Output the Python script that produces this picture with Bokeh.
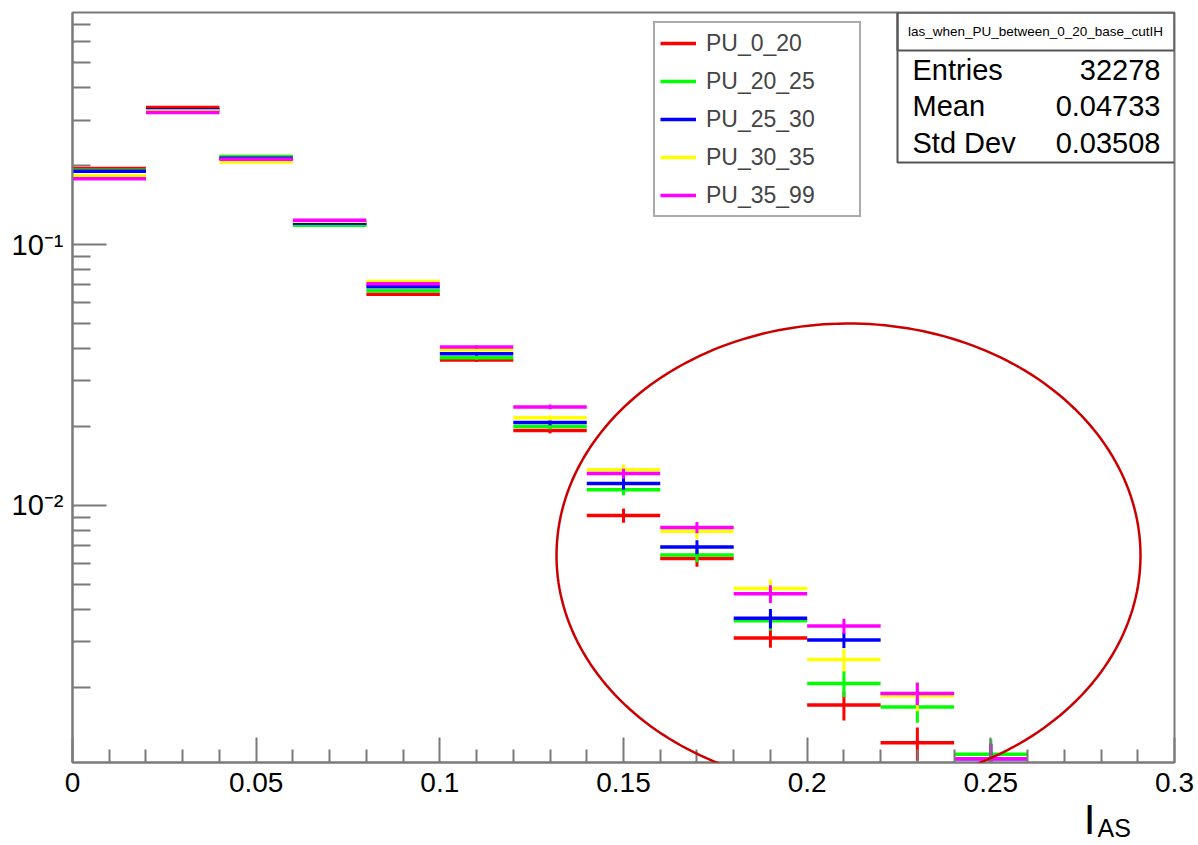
import math
import numpy as np
from bokeh.plotting import figure
from bokeh.models import (FixedTicker, CustomJSTickFormatter, Legend, LegendItem, LinearAxis,
                          ColumnDataSource, BoxAnnotation, Label, PolyAnnotation)
from bokeh.embed import file_html
from bokeh.resources import INLINE

NAN = float("nan")

# ---------------- data ----------------
bin_lo = [0.00, 0.02, 0.04, 0.06, 0.08, 0.10, 0.12, 0.14, 0.16, 0.18, 0.20, 0.22, 0.24]
bin_hi = [0.02, 0.04, 0.06, 0.08, 0.10, 0.12, 0.14, 0.16, 0.18, 0.20, 0.22, 0.24, 0.26]

series_names = ["PU_0_20", "PU_20_25", "PU_25_30", "PU_30_35", "PU_35_99"]
series_colors = ["#ff0000", "#00ff00", "#0000ff", "#ffff00", "#ff00ff"]

pu_0_20 = [0.1955, 0.3354, 0.2148, 0.1198, 0.06445, 0.03608, 0.01939, 0.00916, 0.00626, 0.003108, 0.001719, 0.001231, NAN]
pu_20_25 = [0.1925, 0.3275, 0.2173, 0.1185, 0.06658, 0.03681, 0.02008, 0.01148, 0.00646, 0.003617, 0.002079, 0.00169, 0.001114]
pu_25_30 = [0.1911, 0.3284, 0.2140, 0.1206, 0.06897, 0.03813, 0.02079, 0.01213, 0.00693, 0.003694, 0.003053, 0.00190, 0.00107]
pu_30_35 = [0.1834, 0.3247, 0.2074, 0.1229, 0.07225, 0.03950, 0.02167, 0.01372, 0.00796, 0.004808, 0.002568, 0.001866, NAN]
pu_35_99 = [0.1786, 0.3209, 0.2124, 0.1238, 0.07079, 0.04045, 0.02387, 0.01325, 0.00824, 0.004585, 0.003452, 0.001904, 0.00107]

err_0_20 = [0.0010, 0.0013, 0.0010, 0.0008, 0.0008, 0.0006, 0.0005, 0.00057, 0.00044, 0.00026, 0.00022, 0.00018, NAN]
err_20_25 = [0.0010, 0.0013, 0.0010, 0.0008, 0.0008, 0.0006, 0.0005, 0.00055, 0.00040, 0.00030, 0.00024, 0.00022, 0.00016]
err_25_30 = [0.0010, 0.0013, 0.0010, 0.0008, 0.0008, 0.0006, 0.0005, 0.00064, 0.00043, 0.00032, 0.00021, 0.00020, 0.00015]
err_30_35 = [0.0010, 0.0013, 0.0010, 0.0008, 0.0008, 0.0006, 0.0005, 0.00064, 0.00054, 0.00041, 0.00026, 0.00024, NAN]
err_35_99 = [0.0010, 0.0013, 0.0010, 0.0008, 0.0008, 0.0006, 0.0005, 0.00058, 0.00041, 0.00036, 0.00023, 0.00019, 0.00015]

series_values = [pu_0_20, pu_20_25, pu_25_30, pu_30_35, pu_35_99]
series_errors = [err_0_20, err_20_25, err_25_30, err_30_35, err_35_99]

x_major_ticks = [0.0, 0.05, 0.10, 0.15, 0.20, 0.25, 0.30]
x_minor_ticks = [0.01, 0.02, 0.03, 0.04, 0.06, 0.07, 0.08, 0.09, 0.11, 0.12, 0.13, 0.14,
                 0.16, 0.17, 0.18, 0.19, 0.21, 0.22, 0.23, 0.24, 0.26, 0.27, 0.28, 0.29]
y_major_ticks = [0.01, 0.1]
y_minor_ticks = [0.002, 0.003, 0.004, 0.005, 0.006, 0.007, 0.008, 0.009,
                 0.02, 0.03, 0.04, 0.05, 0.06, 0.07, 0.08, 0.09,
                 0.2, 0.3, 0.4, 0.5, 0.6, 0.7]

x_title_main = "I"
x_title_sub = "AS"

stats_title = "las_when_PU_between_0_20_base_cutIH"
stats_rows = [("Entries", "32278"), ("Mean", "0.04733"), ("Std Dev", "0.03508")]

# ---------------- figure ----------------
FONT = "Liberation Sans"
GRAY = "#7a7a7a"

p = figure(width=1198, height=845, x_range=(0.0, 0.3), y_range=(0.001035, 0.775),
           y_axis_type="log", output_backend="svg", toolbar_location=None,
           min_border_left=72, min_border_right=24, min_border_top=12, min_border_bottom=80)
p.background_fill_color = "white"
p.border_fill_color = "white"
p.outline_line_color = GRAY
p.outline_line_width = 2
p.xgrid.visible = False
p.ygrid.visible = False

for ax in (p.xaxis[0], p.yaxis[0]):
    ax.axis_line_color = GRAY
    ax.axis_line_width = 2
    ax.major_tick_line_color = GRAY
    ax.minor_tick_line_color = GRAY
    ax.major_tick_line_width = 2
    ax.minor_tick_line_width = 2
    ax.major_tick_out = 0
    ax.minor_tick_out = 0
    ax.major_label_text_font = FONT
    ax.major_label_text_color = "black"

xa = p.xaxis[0]
xa.ticker = FixedTicker(ticks=x_major_ticks, minor_ticks=x_minor_ticks)
xa.formatter = CustomJSTickFormatter(code="return String(Number(tick.toFixed(3)));")
xa.major_tick_in = 25
xa.minor_tick_in = 13
xa.major_label_text_font_size = "28px"
xa.major_label_standoff = 10

ya = p.yaxis[0]
ya.ticker = FixedTicker(ticks=y_major_ticks, minor_ticks=y_minor_ticks)
ya.formatter = CustomJSTickFormatter(code="""
const e = Math.round(Math.log10(tick));
const sup = {'-': '\\u207b', '0': '\\u2070', '1': '\\u00b9', '2': '\\u00b2', '3': '\\u00b3',
             '4': '\\u2074', '5': '\\u2075', '6': '\\u2076', '7': '\\u2077', '8': '\\u2078', '9': '\\u2079'};
return '10' + String(e).split('').map(c => sup[c]).join('');
""")
ya.major_tick_in = 34
ya.minor_tick_in = 18
ya.major_label_text_font_size = "29px"
ya.major_label_standoff = 9

# x-axis title "I" with subscript "AS", drawn as labels of extra (line-less) axes,
# placed at the right end below the main axis
def title_axis(txt, pos, size, standoff, alpha=1.0):
    a = LinearAxis(ticker=FixedTicker(ticks=[pos]),
                   formatter=CustomJSTickFormatter(args=dict(txt=txt), code="return txt;"))
    a.axis_line_color = None
    a.major_tick_line_color = None
    a.minor_tick_line_color = None
    a.major_tick_in = 0
    a.major_tick_out = 0
    a.minor_tick_in = 0
    a.minor_tick_out = 0
    a.major_label_text_font = FONT
    a.major_label_text_font_size = size
    a.major_label_text_color = "black"
    a.major_label_text_alpha = alpha
    a.major_label_standoff = standoff
    return a

p.add_layout(title_axis(x_title_main, 0.2769, "42px", 1), "below")
p.add_layout(title_axis(x_title_sub, 0.2836, "25px", -32), "below")
# invisible spacer that gives back room so the frame keeps its height
p.add_layout(title_axis(".", 0.15, "1px", -27, alpha=0.0), "below")

# ---------------- histogram marks ----------------
centers = [(a + b) / 2 for a, b in zip(bin_lo, bin_hi)]
items = []
for name, color, vals, errs in zip(series_names, series_colors, series_values, series_errors):
    v = np.array(vals, dtype=float)
    e = np.array(errs, dtype=float)
    src = ColumnDataSource(dict(x0=bin_lo, x1=bin_hi, xc=centers, y=v, ylo=v - e, yhi=v + e))
    r = p.segment(x0="x0", y0="y", x1="x1", y1="y", source=src, line_color=color, line_width=3.5)
    p.segment(x0="xc", y0="ylo", x1="xc", y1="yhi", source=src, line_color=color, line_width=3)
    items.append(LegendItem(label=name, renderers=[r]))

legend = Legend(items=items, location=(581, 545), padding=5, spacing=8, margin=0,
                label_height=30, glyph_height=30, glyph_width=36, label_standoff=10,
                label_width=148, label_text_font=FONT, label_text_font_size="23px",
                border_line_color="#555555", border_line_width=2, background_fill_alpha=1.0)
p.add_layout(legend)

# ---------------- stats box ----------------
p.add_layout(BoxAnnotation(left=897, right=1174, top=12, bottom=162,
                           left_units="canvas", right_units="canvas",
                           top_units="canvas", bottom_units="canvas",
                           fill_color="white", fill_alpha=1.0,
                           line_color="#555555", line_width=2, line_alpha=1.0))
p.add_layout(BoxAnnotation(left=897, right=1174, top=12, bottom=50,
                           left_units="canvas", right_units="canvas",
                           top_units="canvas", bottom_units="canvas",
                           fill_alpha=0.0, line_color="#555555", line_width=2, line_alpha=1.0))
p.add_layout(Label(x=1035, y=31, x_units="canvas", y_units="canvas", text=stats_title,
                   text_align="center", text_baseline="middle", text_font=FONT,
                   text_font_size="13.5px", text_color="black"))
for i, (k, val) in enumerate(stats_rows):
    yy = 69 + i * 36.5
    p.add_layout(Label(x=912, y=yy, x_units="canvas", y_units="canvas", text=k,
                       text_align="left", text_baseline="middle", text_font=FONT,
                       text_font_size="29px", text_color="black"))
    p.add_layout(Label(x=1160, y=yy, x_units="canvas", y_units="canvas", text=val,
                       text_align="right", text_baseline="middle", text_font=FONT,
                       text_font_size="29px", text_color="black"))

# ---------------- highlight ellipse ----------------
cx, cy, rx, ry = 848, 555, 292, 232
t = np.linspace(0, 2 * math.pi, 240)
p.add_layout(PolyAnnotation(xs=list(cx + rx * np.cos(t)), ys=list(cy + ry * np.sin(t)),
                            xs_units="canvas", ys_units="canvas",
                            fill_alpha=0.0, line_color="#cc0000", line_width=2.5, line_alpha=1.0))

open("out.html", "w").write(file_html(p, INLINE))
